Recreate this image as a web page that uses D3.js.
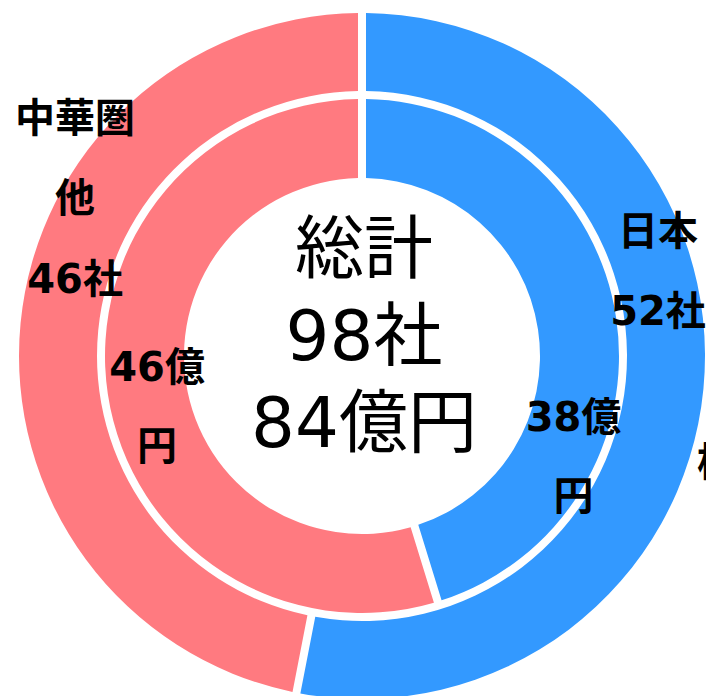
<!DOCTYPE html>
<html><head><meta charset="utf-8">
<script src="https://cdn.jsdelivr.net/npm/d3@7"></script>
<style>html,body{margin:0;padding:0;background:#fff;overflow:hidden}</style>
</head><body>
<svg id="chart" width="706" height="696"></svg>
<script>
// ---- data ----
const outerCategories = ["日本", "中華圏他"];
const outerValues = [52, 46];           // 社
const outerLabels = [["日本", "52社"], ["中華圏", "他", "46社"]];
const innerCategories = ["日本", "中華圏他"];
const innerValues = [38, 46];           // 億円
const innerLabels = [["38億", "円"], ["46億", "円"]];
const centerLines = ["総計", "98社", "84億円"];
const extraLabel = "株";

// ---- layout / style ----
const W = 706, H = 696, cx = 362, cy = 356;
const colors = ["#3399FF", "#FF7A80"];
const outerR = [265, 343], innerR = [178, 257];
const fontFam = "'DejaVu Sans','Noto Sans CJK JP',sans-serif";
// label anchor (deg clockwise from top, radius)
const outerLabelPos = [{a: 76.5, r: 304.4}, {a: 296.6, r: 320.9}];
const innerLabelPos = [{a: 118.5, r: 240.7}, {a: 252.5, r: 214.9}];
const extraPos = {a: 109.7, r: 355.8};

const svg = d3.select("#chart");
const g = svg.append("g").attr("transform", `translate(${cx},${cy})`);
const pie = d3.pie().sort(null).value(d => d);
const color = d3.scaleOrdinal().domain(outerCategories).range(colors);

function ring(values, cats, r) {
  const arc = d3.arc().innerRadius(r[0]).outerRadius(r[1]).padAngle(0.08).padRadius(100);
  g.append("g").selectAll("path").data(pie(values)).join("path")
    .attr("d", arc).attr("fill", (d, i) => color(cats[i]));
}
ring(outerValues, outerCategories, outerR);
ring(innerValues, innerCategories, innerR);

function polar(p) {
  const a = p.a * Math.PI / 180;
  return [p.r * Math.sin(a), -p.r * Math.cos(a)];
}
function labelBlock(lines, pos, lh) {
  const [x, y] = polar(pos);
  const t = g.append("text").attr("text-anchor", "middle")
    .attr("font-family", fontFam).attr("font-weight", "bold")
    .attr("font-size", 40).attr("fill", "#000");
  lines.forEach((s, i) => {
    t.append("tspan").attr("x", x).attr("y", y + (i - (lines.length - 1) / 2) * lh).text(s);
  });
}
outerLabels.forEach((l, i) => labelBlock(l, outerLabelPos[i], 80.5));
innerLabels.forEach((l, i) => labelBlock(l, innerLabelPos[i], 79));

{
  const [x, y] = polar(extraPos);
  g.append("text").attr("x", x).attr("y", y).attr("text-anchor", "start")
    .attr("font-family", fontFam).attr("font-weight", "bold").attr("font-size", 40)
    .text(extraLabel);
}

const ct = g.append("text").attr("text-anchor", "middle")
  .attr("font-family", fontFam).attr("font-size", 69).attr("fill", "#000");
centerLines.forEach((s, i) => {
  ct.append("tspan").attr("x", 2).attr("y", -83 + i * 87).text(s);
});
</script>
</body></html>
